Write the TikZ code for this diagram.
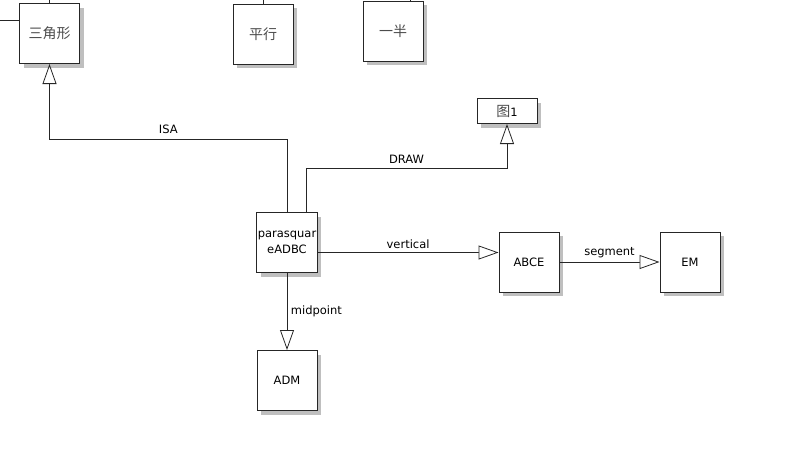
\documentclass[tikz,border=0pt]{standalone}
\usepackage{fontspec}
\setmainfont{DejaVu Sans}
\newfontfamily\cjk{Noto Sans CJK SC}
\usetikzlibrary{positioning, arrows.meta, calc, shadows}
\tikzset{
  arr/.style={-{Triangle[length=20pt,width=14pt,fill=white]}, line width=0.8pt, draw=black!85},
  lin/.style={line width=0.8pt, draw=black!85},
  blk/.style={draw=black!85, line width=1pt, fill=white, minimum width=60pt, minimum height=60pt,
    align=center, inner sep=1pt,
    drop shadow={shadow xshift=4pt, shadow yshift=-4pt, fill=black!25, opacity=1}},
  cjkblk/.style={blk, font=\cjk\fontsize{14}{16}\selectfont, text=black!70},
  lab/.style={inner sep=1.5pt}
}

\begin{document}
\begin{tikzpicture}[x=1pt, y=1pt, font=\fontsize{11.5}{16}\selectfont]
\useasboundingbox (0,0) rectangle (811,-469);
\coordinate (top) at (0,0);
\coordinate (lft) at (0,-20);
% upper row
\node[cjkblk] (tri) at (49.5,-33.5) {三角形};
\node[cjkblk] (par) at (263,-34) {平行};
\node[cjkblk] (half) at (393,-31) {一半};
\node[blk, minimum height=25pt] (fig) at (507,-111) {{\cjk\fontsize{14}{16}\selectfont\color{black!70}图}1};
% middle
\node[blk] (psq) at (287,-242.5) {parasquar\\eADBC};
\node[blk] (abce) at (529,-262) {ABCE};
\node[blk, right=100pt of abce] (em) {EM};
\node[blk, below=77pt of psq] (adm) {ADM};
% edges leaving the view
\draw[lin] (tri.north) -- (tri.north |- top);
\draw[lin] (lft) -- (lft -| tri.west);
\draw[lin] (par.north) -- (par.north |- top);
\draw[lin] ([xshift=17pt]half.north) -- ([xshift=17pt]half.north |- top);
% connectors
\draw[arr] (psq.north) |- node[lab, pos=0.75, anchor=south, yshift=3pt] {ISA}
  ($(tri.south)+(0,-75)$) -- (tri.south);
\draw[arr] ([xshift=19pt]psq.north) |- node[lab, pos=0.75, anchor=south, yshift=3pt] {DRAW}
  ($(fig.south)+(0,-44)$) -- (fig.south);
\draw[arr] ([yshift=-10pt]psq.east) -- ([yshift=-10pt]psq.east -| abce.west)
  node[lab, midway, anchor=south, yshift=2pt] {vertical};
\draw[arr] (abce.east) -- (em.west)
  node[lab, midway, anchor=south, yshift=2pt] {segment};
\draw[arr] (psq.south) -- (adm.north)
  node[lab, midway, anchor=west, xshift=2pt] {midpoint};
\end{tikzpicture}
\end{document}
